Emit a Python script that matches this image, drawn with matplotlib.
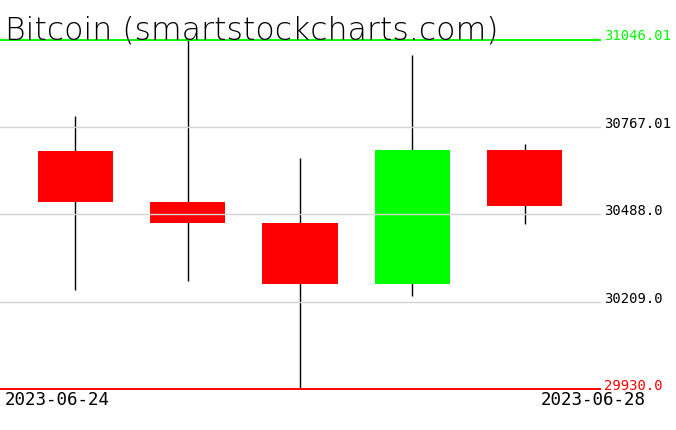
import numpy as np
import matplotlib
matplotlib.use('Agg')
import matplotlib.pyplot as plt

# daily candles
dates = ['2023-06-24', '2023-06-25', '2023-06-26', '2023-06-27', '2023-06-28']
opens = [30690.0, 30526.0, 30461.0, 30266.0, 30693.0]
closes = [30526.0, 30461.0, 30266.0, 30693.0, 30515.0]
highs = [30803.0, 31046.01, 30668.0, 30997.5, 30712.0]
lows = [30247.0, 30276.0, 29930.0, 30226.0, 30458.0]
y_tick_labels = ['29930.0', '30209.0', '30488.0', '30767.01', '31046.01']

W, H = 676, 431
fig = plt.figure(figsize=(W / 100, H / 100), dpi=100)
ax = fig.add_axes([0, 1 - 390 / H, 600 / W, (390 - 40.5) / H])

x = np.arange(len(dates))
o = np.array(opens)
c = np.array(closes)
colors = ['#00ff00' if cc > oo else '#ff0000' for oo, cc in zip(o, c)]

# wicks first, bodies on top
ax.vlines(x, lows, highs, color='black', linewidth=1.0, zorder=1)
ax.bar(x, np.abs(c - o), bottom=np.minimum(o, c), width=0.667,
       color=colors, linewidth=0, zorder=2)

ymin, ymax = min(lows), max(highs)
ax.set_xlim(-0.667, len(dates) - 1 + 0.667)
ax.set_ylim(ymin, ymax)
ax.axis('off')

ticks = np.linspace(ymin, ymax, len(y_tick_labels))
for i, (t, lab) in enumerate(zip(ticks, y_tick_labels)):
    if i == 0:
        col, lw = '#ff0000', 1.4
    elif i == len(ticks) - 1:
        col, lw = '#00ff00', 1.4
    else:
        col, lw = '#d3d3d3', 1.0
    ax.axhline(t, color=col, linewidth=lw, zorder=3, clip_on=False)
    # label sits on the line, right of the plot area
    ax.text(604 / 600, t, lab, transform=ax.get_yaxis_transform(),
            ha='left', va='baseline', fontsize=10, color=col if i in (0, len(ticks) - 1) else 'black',
            family='DejaVu Sans Mono')

# first and last date under the chart
fig.text(5 / W, 1 - 405.5 / H, dates[0], ha='left', va='baseline',
         fontsize=12.6, family='DejaVu Sans Mono')
fig.text(646 / W, 1 - 405.5 / H, dates[-1], ha='right', va='baseline',
         fontsize=12.6, family='DejaVu Sans Mono')

fig.text(5 / W, 1 - 39 / H, 'Bitcoin (smartstockcharts.com)', ha='left',
         va='baseline', fontsize=22.7, fontweight='light', color='black',
         family='DejaVu Sans')

fig.savefig('out.png', dpi=100, facecolor='white')
